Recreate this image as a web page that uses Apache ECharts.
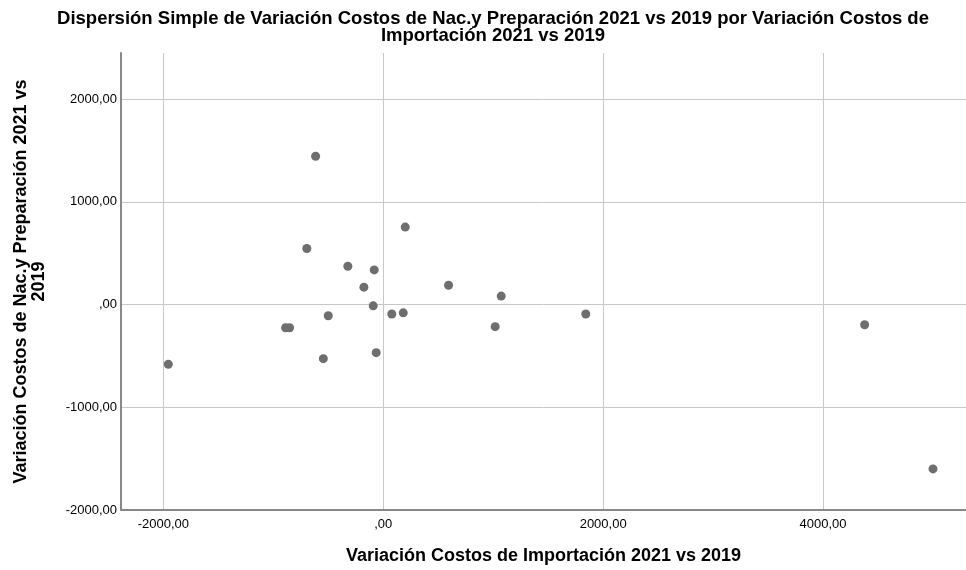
<!DOCTYPE html>
<html>
<head>
<meta charset="utf-8">
<script src="https://cdn.jsdelivr.net/npm/echarts@6/dist/echarts.min.js"></script>
<style>
  html, body { margin: 0; padding: 0; background: #fff; }
  #chart { width: 966px; height: 570px; }
</style>
</head>
<body>
<div id="chart"></div>
<script>
// Variación Costos de Importación 2021 vs 2019 (eje X)
const importacion = [-615, 200, -695, -322, -82, -176, 594, 1073, -91, 78, 182, -500, -888, -852, 1018, 1842, -545, -64, -1955, 4378, 5000]
// Variación Costos de Nac.y Preparación 2021 vs 2019 (eje Y)
const nacionalizacion = [1445, 755, 546, 374, 338, 170, 189, 83, -12, -92, -80, -109, -225, -225, -215, -92, -526, -468, -581, -196, -1600]

const puntos = importacion.map((x, i) => [x, nacionalizacion[i]])

// formato SPSS: coma decimal, sin cero delante
function fmt (v) {
  if (v === 0) return ',00'
  return String(v) + ',00'
}

const chart = echarts.init(document.getElementById('chart'))
chart.setOption({
  animation: false,
  textStyle: { fontFamily: 'Liberation Sans, Arial, sans-serif' },
  title: {
    text: 'Dispersión Simple de Variación Costos de Nac.y Preparación 2021 vs 2019 por Variación Costos de\nImportación 2021 vs 2019',
    left: 488,
    top: 5,
    textAlign: 'center',
    textStyle: { fontSize: 18.5, fontWeight: 'bold', color: '#000', lineHeight: 17 }
  },
  grid: { left: 121, right: 0, top: 53, bottom: 60 },
  xAxis: {
    type: 'value',
    min: -2385,
    max: 5300,
    splitNumber: 4,
    name: 'Variación Costos de Importación 2021 vs 2019',
    nameLocation: 'middle',
    nameGap: 37,
    nameTextStyle: { fontSize: 18, fontWeight: 'bold', color: '#000' },
    axisLine: { show: true, onZero: false, lineStyle: { color: '#888', width: 2 } },
    axisTick: { show: false },
    axisLabel: {
      color: '#000', fontSize: 13, margin: 8,
      showMinLabel: false, showMaxLabel: false,
      formatter: fmt
    },
    splitLine: { show: true, lineStyle: { color: '#c8c8c8', width: 1 } }
  },
  yAxis: {
    type: 'value',
    min: -2000,
    max: 2450,
    splitNumber: 5,
    name: 'Variación Costos de Nac.y Preparación 2021 vs\n2019',
    nameLocation: 'middle',
    nameRotate: 90,
    nameGap: 73,
    nameTextStyle: { fontSize: 18, fontWeight: 'bold', color: '#000', lineHeight: 18 },
    axisLine: { show: true, onZero: false, lineStyle: { color: '#888', width: 2 } },
    axisTick: { show: false },
    axisLabel: {
      color: '#000', fontSize: 13, margin: 4,
      showMaxLabel: false,
      formatter: fmt
    },
    splitLine: {
      show: true,
      lineStyle: { color: ['#c8c8c8', '#c8c8c8', '#c8c8c8', '#c8c8c8', '#c8c8c8', 'rgba(0,0,0,0)'], width: 1 }
    }
  },
  series: [{
    type: 'scatter',
    data: puntos,
    symbolSize: 9,
    itemStyle: { color: '#6e6e6e', opacity: 1 }
  }]
})
</script>
</body>
</html>
